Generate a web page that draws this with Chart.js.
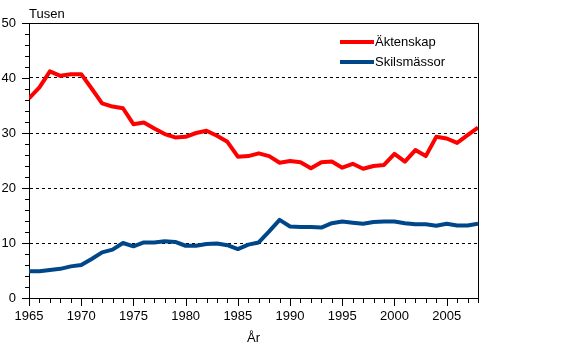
<!DOCTYPE html>
<html lang="sv">
<head>
<meta charset="utf-8">
<title>Äktenskap och skilsmässor</title>
<script src="https://cdn.jsdelivr.net/npm/chart.js@4/dist/chart.umd.min.js"></script>
<style>
	html, body { margin: 0; padding: 0; background: #fff; }
	#wrap { position: relative; width: 562px; height: 346px; }
</style>
</head>
<body>
<div id="wrap"><canvas id="myChart" width="562" height="346"></canvas></div>
<script>
// years 1965-2008, thousands
const years = [];
for (let y = 1965; y <= 2008; y++) years.push(y);

const aktenskap = [
	36.3, 38.3, 41.2, 40.4, 40.7, 40.7, 38.1, 35.4, 34.8, 34.5,
	31.6, 31.9, 30.8, 29.8, 29.2, 29.3, 30.0, 30.4, 29.5, 28.4,
	25.7, 25.8, 26.3, 25.8, 24.6, 24.9, 24.7, 23.6, 24.7, 24.8,
	23.7, 24.4, 23.5, 24.0, 24.2, 26.2, 24.8, 26.9, 25.8, 29.3,
	29.0, 28.2, 29.6, 31.0
];
const skilsmassor = [
	4.85, 4.85, 5.1, 5.3, 5.75, 6.0, 7.1, 8.3, 8.8, 10.0,
	9.4, 10.1, 10.1, 10.3, 10.2, 9.5, 9.5, 9.8, 9.9, 9.6,
	8.9, 9.7, 10.1, 12.1, 14.2, 13.0, 12.9, 12.9, 12.8, 13.6,
	13.9, 13.7, 13.5, 13.8, 13.9, 13.9, 13.6, 13.4, 13.4, 13.15,
	13.5, 13.2, 13.2, 13.5
];
const seriesNames = ['Äktenskap', 'Skilsmässor'];
const seriesColors = ['#ff0000', '#00478a'];
const yTicks = [0, 10, 20, 30, 40, 50];
const xLabelYears = [1965, 1970, 1975, 1980, 1985, 1990, 1995, 2000, 2005];

const FONT = '"Liberation Sans", Arial, sans-serif';

// frame, tick marks, legend and axis captions
const framePlugin = {
	id: 'frame',
	afterDraw: function (chart) {
		const ctx = chart.ctx;
		const a = chart.chartArea;
		const xs = chart.scales.x;
		const ys = chart.scales.y;
		ctx.save();
		ctx.strokeStyle = '#000';
		ctx.lineWidth = 1;
		ctx.beginPath();
		// top and right border
		ctx.moveTo(a.left - 7, Math.round(a.top) + 0.5);
		ctx.lineTo(Math.round(a.right) + 0.5, Math.round(a.top) + 0.5);
		ctx.moveTo(Math.round(a.right) + 0.5, a.top);
		ctx.lineTo(Math.round(a.right) + 0.5, a.bottom);
		// y ticks every 2, long every 10
		for (let v = 0; v <= 50; v += 2) {
			const py = Math.round(ys.getPixelForValue(v)) + 0.5;
			const len = v % 10 === 0 ? 7 : 4;
			ctx.moveTo(a.left - len, py);
			ctx.lineTo(a.left, py);
		}
		// x ticks every year, long every 5
		for (const yr of years) {
			const px = Math.round(xs.getPixelForValue(yr)) + 0.5;
			const len = yr % 5 === 0 ? 8 : 5;
			ctx.moveTo(px, a.bottom);
			ctx.lineTo(px, a.bottom + len);
		}
		ctx.stroke();

		// legend
		ctx.font = '13px ' + FONT;
		ctx.textBaseline = 'middle';
		ctx.textAlign = 'left';
		ctx.fillStyle = '#000';
		const legY = [42, 62];
		chart.data.datasets.forEach(function (ds, i) {
			ctx.strokeStyle = ds.borderColor;
			ctx.lineWidth = 4;
			ctx.beginPath();
			ctx.moveTo(340, legY[i]);
			ctx.lineTo(374, legY[i]);
			ctx.stroke();
			ctx.fillText(ds.label, 375, legY[i]);
		});

		// captions
		ctx.fillText('Tusen', a.left, 14);
		ctx.textAlign = 'center';
		ctx.fillText('År', (a.left + a.right) / 2, 338);
		ctx.restore();
	},
};

const createChart = function () {
	const data = {
		labels: years,
		datasets: [
			{
				label: seriesNames[0],
				data: years.map((yr, i) => ({ x: yr, y: aktenskap[i] })),
				borderColor: seriesColors[0],
				backgroundColor: seriesColors[0],
			},
			{
				label: seriesNames[1],
				data: years.map((yr, i) => ({ x: yr, y: skilsmassor[i] })),
				borderColor: seriesColors[1],
				backgroundColor: seriesColors[1],
			},
		],
	};

	const config = {
		type: 'line',
		data: data,
		plugins: [framePlugin],
		options: {
			responsive: false,
			animation: false,
			layout: { padding: { top: 23, right: 84, left: 0, bottom: 0 } },
			elements: {
				line: { borderWidth: 4, tension: 0, borderJoinStyle: 'round' },
				point: { radius: 0 },
			},
			plugins: {
				legend: { display: false },
				tooltip: { enabled: false },
			},
			scales: {
				x: {
					type: 'linear',
					min: 1965,
					max: 2008,
					afterFit: function (scale) { scale.height = 48; },
					afterBuildTicks: function (scale) {
						scale.ticks = xLabelYears.map((v) => ({ value: v }));
					},
					grid: { drawOnChartArea: false, drawTicks: false },
					border: { display: true, color: '#000', width: 1 },
					ticks: {
						autoSkip: false,
						maxRotation: 0,
						padding: 11,
						color: '#000',
						font: { family: FONT, size: 13 },
						callback: (v) => String(v),
					},
				},
				y: {
					min: 0,
					max: 50,
					afterFit: function (scale) { scale.width = 29; },
					afterBuildTicks: function (scale) {
						scale.ticks = yTicks.map((v) => ({ value: v }));
					},
					grid: {
						drawTicks: false,
						color: (c) => (c.tick && c.tick.value > 0 && c.tick.value < 50 ? '#000' : 'rgba(0,0,0,0)'),
						lineWidth: 1,
					},
					border: { display: true, color: '#000', width: 1, dash: [3, 3] },
					ticks: {
						padding: 13,
						color: '#000',
						font: { family: FONT, size: 13 },
					},
				},
			},
		},
	};

	const ctx = document.getElementById('myChart');
	new Chart(ctx, config);
};

const init = function () {
	createChart();
};
document.addEventListener('DOMContentLoaded', init);
</script>
</body>
</html>
